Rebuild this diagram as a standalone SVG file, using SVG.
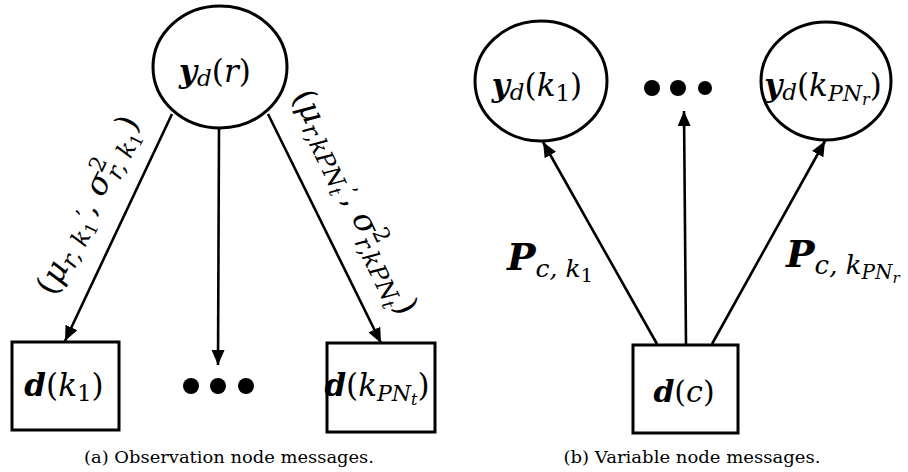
<svg xmlns="http://www.w3.org/2000/svg" width="908" height="472" viewBox="0 0 908 472">
<defs>
<style>
text { font-family: "DejaVu Serif", "Liberation Serif", serif; fill: #000; }
.node { fill: #fff; stroke: #000; stroke-width: 3; }
.conn line { stroke: #000; stroke-width: 2.6; marker-end: url(#ah); }
.bi { font-weight: bold; font-style: italic; }
.it { font-style: italic; }
.dot { fill: #000; }
.cap { font-size: 16px; }
</style>
<marker id="ah" markerUnits="userSpaceOnUse" markerWidth="16" markerHeight="14" refX="15" refY="6.5" orient="auto">
<path d="M0,0 L15,6.5 L0,13 z" fill="#000"/>
</marker>
</defs>

<g id="connectors" class="conn">
<line x1="172" y1="114" x2="65" y2="341"/>
<line x1="219" y1="128" x2="218" y2="365"/>
<line x1="268" y1="114" x2="381" y2="343"/>
<line x1="657" y1="344" x2="543" y2="142"/>
<line x1="686" y1="344" x2="684" y2="111"/>
<line x1="712" y1="344" x2="825" y2="141"/>
</g>

<g id="node-yd-r">
<ellipse class="node" cx="220" cy="67" rx="67" ry="61"/>
<text x="215" y="82" text-anchor="middle" font-size="31"><tspan class="bi">y</tspan><tspan class="it" font-size="23" dy="4">d</tspan><tspan dy="-4">(</tspan><tspan class="it">r</tspan>)</text>
</g>

<g id="node-d-k1">
<rect class="node" x="12" y="342" width="107" height="88"/>
<text x="64" y="396" text-anchor="middle" font-size="31"><tspan class="bi">d</tspan>(<tspan class="it">k</tspan><tspan font-size="23" dy="5">1</tspan><tspan dy="-5">)</tspan></text>
</g>

<g id="dots-a">
<circle class="dot" cx="191" cy="386" r="8"/>
<circle class="dot" cx="218" cy="386" r="8"/>
<circle class="dot" cx="246" cy="386" r="8"/>
</g>

<g id="node-d-kpnt">
<rect class="node" x="327" y="343" width="108" height="89"/>
<text x="377" y="396" text-anchor="middle" font-size="31"><tspan class="bi">d</tspan>(<tspan class="it">k</tspan><tspan class="it" font-size="22" dy="5">PN</tspan><tspan class="it" font-size="16" dy="4">t</tspan><tspan dy="-9">)</tspan></text>
</g>

<g id="label-left">
<text transform="translate(90,206) rotate(-64)" x="0" y="8" text-anchor="middle" font-size="32">(<tspan class="it">μ</tspan><tspan class="it" font-size="24" dy="6">r, k</tspan><tspan font-size="17" dy="3">1</tspan><tspan dy="-12" font-size="21">’</tspan><tspan dy="3">, </tspan><tspan class="it">σ</tspan><tspan font-size="22" dy="-12">2</tspan><tspan class="it" font-size="24" dx="-13" dy="20">r, k</tspan><tspan font-size="17" dy="3">1</tspan><tspan dy="-11">)</tspan></text>
</g>

<g id="label-right">
<text transform="translate(353,203) rotate(64)" x="0" y="8" text-anchor="middle" font-size="32">(<tspan class="it">μ</tspan><tspan class="it" font-size="24" dy="6">r,kPN</tspan><tspan class="it" font-size="17" dy="3">t</tspan><tspan dy="-12" font-size="21">’</tspan><tspan dy="3">, </tspan><tspan class="it">σ</tspan><tspan font-size="22" dy="-12">2</tspan><tspan class="it" font-size="24" dx="-13" dy="20">r,kPN</tspan><tspan class="it" font-size="17" dy="3">t</tspan><tspan dy="-11">)</tspan></text>
</g>

<text class="cap" x="229" y="463" text-anchor="middle" textLength="290" lengthAdjust="spacingAndGlyphs">(a) Observation node messages.</text>

<g id="node-yd-k1">
<ellipse class="node" cx="541" cy="81" rx="66" ry="60"/>
<text x="537" y="96" text-anchor="middle" font-size="31"><tspan class="bi">y</tspan><tspan class="it" font-size="23" dy="4">d</tspan><tspan dy="-4">(</tspan><tspan class="it">k</tspan><tspan font-size="23" dy="5">1</tspan><tspan dy="-5">)</tspan></text>
</g>

<g id="dots-b">
<circle class="dot" cx="652" cy="88" r="8"/>
<circle class="dot" cx="678" cy="88" r="8"/>
<circle class="dot" cx="705" cy="88" r="7"/>
</g>

<g id="node-yd-kpnr">
<ellipse class="node" cx="826" cy="81" rx="65" ry="59"/>
<text x="823" y="96" text-anchor="middle" font-size="31"><tspan class="bi">y</tspan><tspan class="it" font-size="23" dy="4">d</tspan><tspan dy="-4">(</tspan><tspan class="it">k</tspan><tspan class="it" font-size="22" dy="5">PN</tspan><tspan class="it" font-size="16" dy="4">r</tspan><tspan dy="-9">)</tspan></text>
</g>

<g id="node-d-c">
<rect class="node" x="633" y="345" width="105" height="88"/>
<text x="684" y="402" text-anchor="middle" font-size="30"><tspan class="bi">d</tspan>(<tspan class="it">c</tspan>)</text>
</g>

<text x="507" y="270" font-size="38"><tspan class="bi">P</tspan><tspan class="it" font-size="25" dy="7">c, k</tspan><tspan font-size="19" dy="5">1</tspan></text>
<text x="786" y="267" font-size="38"><tspan class="bi">P</tspan><tspan class="it" font-size="26" dy="7">c, k</tspan><tspan class="it" font-size="20" dy="5">PN</tspan><tspan class="it" font-size="15" dy="4">r</tspan></text>

<text class="cap" x="692" y="463" text-anchor="middle" textLength="257" lengthAdjust="spacingAndGlyphs">(b) Variable node messages.</text>
</svg>
